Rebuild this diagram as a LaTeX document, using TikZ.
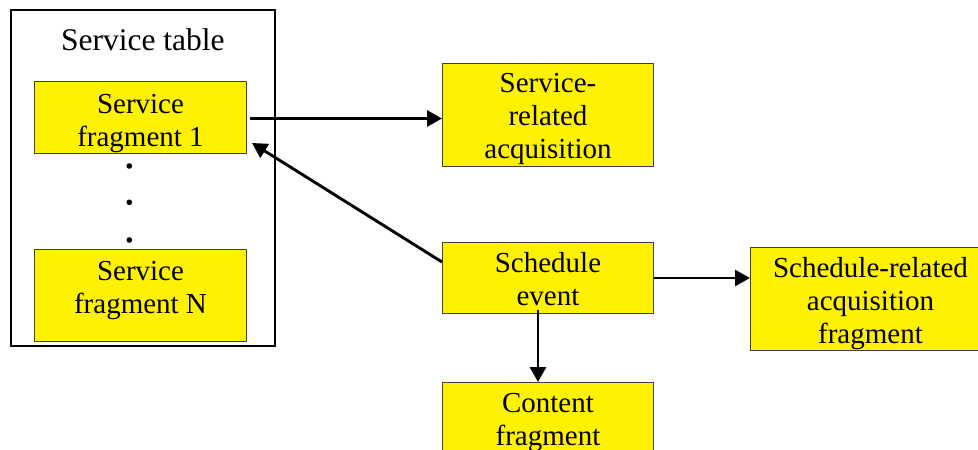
\documentclass[tikz,border=0pt]{standalone}
\usepackage{fontspec}
\setmainfont{Liberation Serif}
\usetikzlibrary{arrows.meta,calc}
\begin{document}
\begin{tikzpicture}[x=1pt,y=-1pt,
  box/.style={draw=black!75, line width=1pt, fill=yellow, inner sep=0pt, anchor=north west},
  lbl/.style={align=center, inner sep=0pt, anchor=north, font=\fontsize{29}{33}\selectfont},
  arr/.style={line width=2.9pt, -{Triangle[length=15pt,width=16pt]}},
  dotmark/.style={circle, fill=black, inner sep=2pt}
]
\useasboundingbox (0,0) rectangle (978,450);
\clip (0,0) rectangle (978,450);
% outer service table
\node[draw=black, line width=1.8pt, minimum width=264pt, minimum height=336pt, inner sep=0pt, anchor=north west] (st) at (10,9) {};
\node[lbl, font=\fontsize{31.5}{36}\selectfont] (stl) at ($(st.north)+(0,19)$) {Service table};
% boxes
\node[box, minimum width=212pt, minimum height=72pt] (sf1) at (34,81) {};
\node[box, minimum width=212pt, minimum height=92pt] (sfn) at (34,249) {};
\node[box, minimum width=211pt, minimum height=103pt] (sra) at (442,63) {};
\node[box, minimum width=211pt, minimum height=71pt] (se) at (442,242) {};
\node[box, minimum width=211pt, minimum height=71pt] (cf) at (442,382) {};
\node[box, minimum width=240pt, minimum height=103pt] (sca) at (750,247) {};
% labels
\node[lbl] (sf1l) at ($(sf1.north)+(0,13)$) {Service\\fragment 1};
\node[lbl] (sfnl) at ($(sfn.north)+(0,12)$) {Service\\fragment N};
\node[lbl] (sral) at ($(sra.north)+(0,10)$) {Service-\\related\\acquisition};
\node[lbl] (sel) at ($(se.north)+(0,10)$) {Schedule\\event};
\node[lbl] (cfl) at ($(cf.north)+(0,11)$) {Content\\fragment};
\node[lbl] (scal) at ($(sca.north)+(0,10)$) {Schedule-related\\acquisition\\fragment};
% dots
\node[dotmark] (d1) at (129.3,166) {};
\node[dotmark] (d2) at (129.3,202.3) {};
\node[dotmark] (d3) at (129.3,240) {};
% arrows
\draw[arr] ($(sf1.east)+(3,1)$) -- ($(sf1.east -| sra.west)+(0,1)$);
\draw[arr] ($(se.north west)+(0,20)$) -- ($(sf1.south east)+(5,-11)$);
\draw[arr] (se.east) -- (se.east -| sca.west);
\draw[arr] ($(se.south)+(-10,-4)$) -- ($(cf.north)+(-10,0)$);
\end{tikzpicture}
\end{document}
